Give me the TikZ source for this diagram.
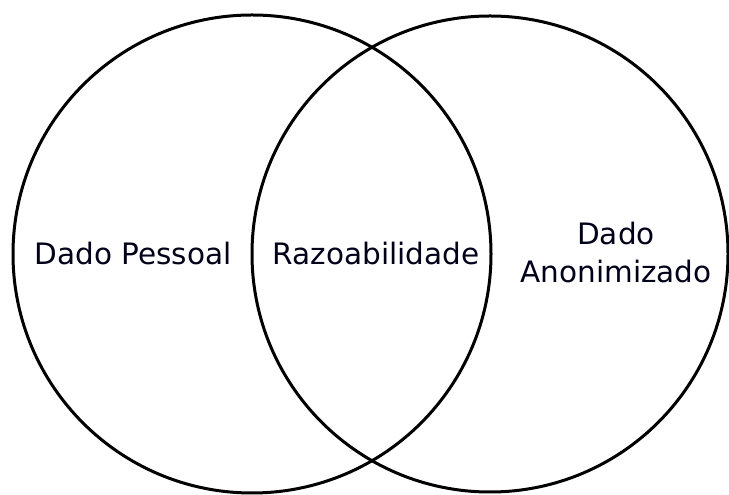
\documentclass[tikz,border=0pt]{standalone}
\usepackage{fontspec}
\setmainfont{DejaVu Sans}
\begin{document}
\begin{tikzpicture}[x=1pt,y=1pt,
  ring/.style={circle, draw=black, line width=3pt, inner sep=0pt},
  caption/.style={font=\fontsize{29.5}{38}\selectfont, text=black!90!blue, inner sep=0pt, anchor=base}]
  \useasboundingbox (0,0) rectangle (729,495);
  % the two overlapping sets
  \node[ring, minimum size=478pt] (pessoal) at (252,241) {};
  \node[ring, minimum size=476pt] (anonimo) at (490,241) {};
  % set labels
  \node[caption] (lblp) at (133,230) {Dado Pessoal};
  \node[caption] (lblr) at (376,230) {Razoabilidade};
  \node[caption] (lbla1) at (616,250) {Dado};
  \node[caption] (lbla2) at (616,212) {Anonimizado};
\end{tikzpicture}
\end{document}
